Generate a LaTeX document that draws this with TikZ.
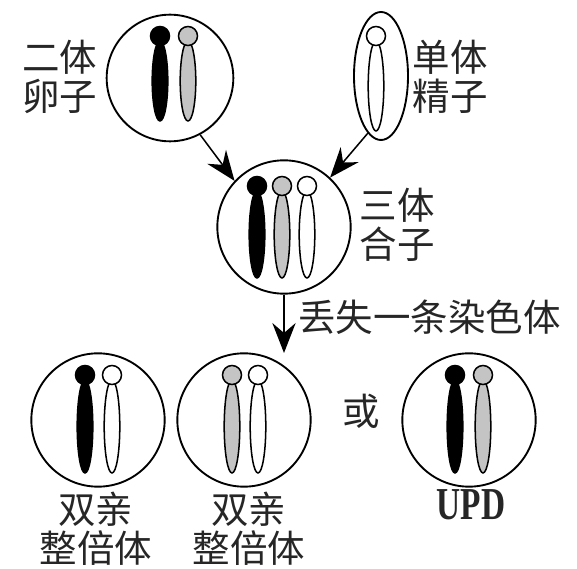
\documentclass[tikz,border=0pt]{standalone}
\usepackage{fontspec}
\newfontfamily\cjk{Noto Sans CJK SC}
\newfontfamily\latin{Liberation Serif}
\usetikzlibrary{arrows.meta,shapes.geometric}
\definecolor{chromgray}{gray}{0.77}
% a chromosome: #1 fill, #2 x, #3 centromere y, #4 lower end y
\newcommand{\chromo}[4][white]{%
  \filldraw[fill=#1, line width=1.3pt] (#2,{(#3+5+#4)/2}) ellipse [x radius=7.8, y radius={(#4-#3-5)/2}];
  \filldraw[fill=#1, line width=1.3pt] (#2,#3) circle [radius=9.5];
}

\begin{document}
\begin{tikzpicture}[x=0.03cm, y=-0.03cm,
  cell/.style={circle, draw, line width=1.6pt, minimum size=#1, inner sep=0pt},
  cell/.default=4cm,
  lab/.style={font=\cjk\fontsize{32}{33.5}\selectfont, align=center, inner sep=0pt, text=black!85},
  arr/.style={-{Stealth[length=0.9cm, width=0.7cm, inset=0.3cm]}, line width=1.3pt}]
\useasboundingbox (0,0) rectangle (577,569);

% diploid egg
\node[cell=3.8cm] (egg) at (170,78) {};
\chromo[black]{160}{36}{121}
\chromo[chromgray]{188}{36}{121}
\node[lab] (egglab) at (60,77) {二体\\卵子};

% haploid sperm
\node[draw, ellipse, line width=1.6pt, minimum width=1.62cm, minimum height=3.84cm, inner sep=0pt] (sperm) at (381,76) {};
\chromo{376}{36}{131}
\node[lab] (spermlab) at (450,77) {单体\\精子};

% trisomic zygote
\node[cell] (zyg) at (284,227) {};
\chromo[black]{257}{186}{278}
\chromo[chromgray]{282}{186}{278}
\chromo{307}{186}{278}
\node[lab] (zyglab) at (397,225) {三体\\合子};

\draw[arr] (egg.-62) -- (zyg.137);
\draw[arr] (sperm.-103) -- (zyg.47);
\coordinate (loss) at (284,353);
\draw[arr] (zyg) -- (loss);
\node[lab, anchor=west] (losslab) at (298,317) {丢失一条染色体};

% outcomes
\node[cell] (kidA) at (98,420) {};
\chromo[black]{85}{375}{473}
\chromo{112}{375}{473}
\node[lab] (kidAlab) at (96,529) {双亲\\整倍体};

\node[cell] (kidB) at (244,420) {};
\chromo[chromgray]{232}{375}{473}
\chromo{258}{375}{473}
\node[lab] (kidBlab) at (249,529) {双亲\\整倍体};

\node[lab] (orlab) at (361,411) {或};

\node[cell] (upd) at (469,420) {};
\chromo[black]{455}{375}{473}
\chromo[chromgray]{483}{375}{473}
\node[inner sep=0pt, font=\latin\bfseries\fontsize{30}{34}\selectfont, text=black!85] (updlab) at (471,505) {\scalebox{0.95}[1.3]{UPD}};
\end{tikzpicture}
\end{document}
